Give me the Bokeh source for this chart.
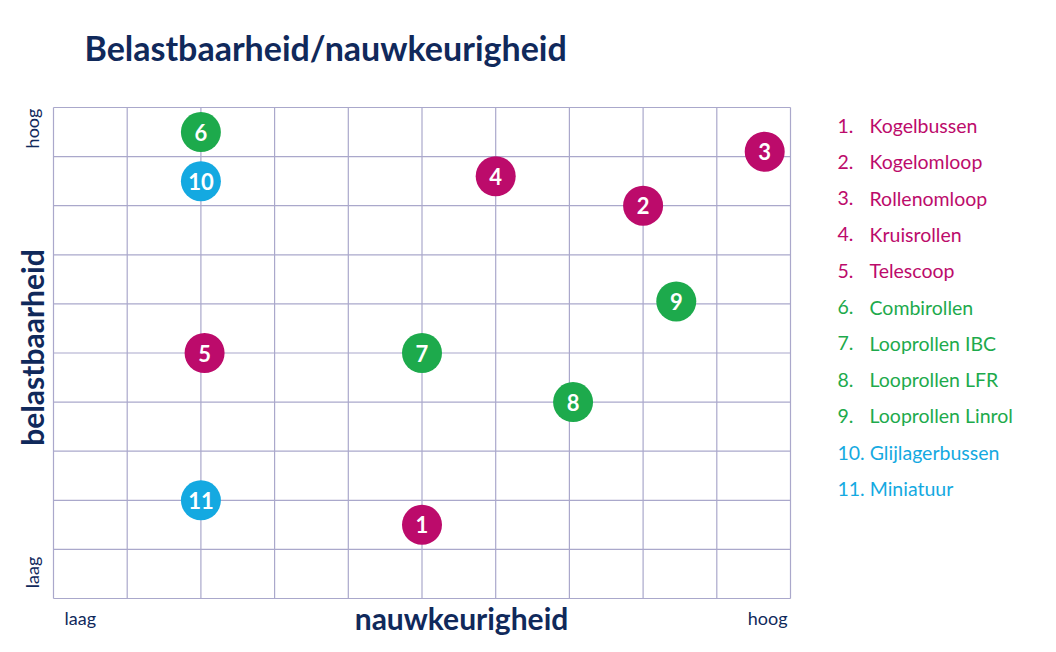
from bokeh.plotting import figure
from bokeh.models import ColumnDataSource, Label, Range1d
from bokeh.embed import file_html
from bokeh.resources import INLINE
from bokeh.core.properties import value
import math

# ---- data ----
numbers = ["1", "2", "3", "4", "5", "6", "7", "8", "9", "10", "11"]
names = ["Kogelbussen", "Kogelomloop", "Rollenomloop", "Kruisrollen", "Telescoop",
         "Combirollen", "Looprollen IBC", "Looprollen LFR", "Looprollen Linrol",
         "Glijlagerbussen", "Miniatuur"]
nauwkeurigheid = [5.0, 8.0, 9.65, 6.0, 2.05, 2.0, 5.0, 7.05, 8.45, 2.0, 2.0]
belastbaarheid = [1.5, 8.0, 9.1, 8.6, 5.0, 9.5, 5.0, 4.0, 6.05, 8.5, 2.0]
groups = ["a", "a", "a", "a", "a", "b", "b", "b", "b", "c", "c"]
grid_ticks = [0, 1, 2, 3, 4, 5, 6, 7, 8, 9, 10]

MAGENTA = "#BC0B6B"
GREEN = "#1DAA4C"
BLUE = "#14A9E1"
NAVY = "#10295B"
GRID = "#AAA8CB"
color_map = {"a": MAGENTA, "b": GREEN, "c": BLUE}
colors = [color_map[g] for g in groups]

FONT = "Lato"

W, H = 1056, 652
FL, FR, FT, FB = 53, 790, 107, 598
sx = (FR - FL) / 10.0
sy = (FB - FT) / 10.0

p = figure(width=W, height=H, output_backend="svg", toolbar_location=None,
           x_range=Range1d(-FL / sx, (W - FL) / sx),
           y_range=Range1d((FB - H) / sy, FB / sy),
           min_border=0)
p.title.visible = False
p.xaxis.visible = False
p.yaxis.visible = False
p.xgrid.visible = False
p.ygrid.visible = False
p.outline_line_color = None
p.background_fill_color = "white"
p.border_fill_color = "white"

lo, hi = grid_ticks[0], grid_ticks[-1]
p.segment(x0=grid_ticks, y0=[lo] * len(grid_ticks), x1=grid_ticks, y1=[hi] * len(grid_ticks),
          line_color=GRID, line_width=1.2)
p.segment(x0=[lo] * len(grid_ticks), y0=grid_ticks, x1=[hi] * len(grid_ticks), y1=grid_ticks,
          line_color=GRID, line_width=1.2)

src = ColumnDataSource(dict(x=nauwkeurigheid, y=belastbaarheid, n=numbers, c=colors))
p.scatter("x", "y", source=src, size=40, fill_color="c", line_color=None)
p.text("x", "y", text="n", source=src, text_color="white", text_font=value(FONT),
       text_font_size="22px", text_align="center", text_baseline="middle",
       text_font_style="bold")


def px(xp):
    return (xp - FL) / sx


def py(yp):
    return (FB - yp) / sy


def lab(text, xp, yp, size, color=NAVY, align="left", angle=0.0, style="normal"):
    p.add_layout(Label(x=px(xp), y=py(yp), text=text, text_font=FONT,
                       text_font_size=size, text_color=color, text_align=align,
                       text_baseline="middle", angle=angle, text_font_style=style))


lab("Belastbaarheid/nauwkeurigheid", 84, 47, "34px", style="bold")
lab("nauwkeurigheid", 461, 617, "30px", align="center", style="bold")
lab("belastbaarheid", 31, 347, "30px", align="center", angle=math.pi / 2, style="bold")
lab("hoog", 31, 128, "18px", align="center", angle=math.pi / 2)
lab("laag", 31, 572, "18px", align="center", angle=math.pi / 2)
lab("laag", 64, 617, "18px")
lab("hoog", 787, 617, "18px", align="right")

y0, dy = 125, 36.3
for i, (num, name, c) in enumerate(zip(numbers, names, colors)):
    yy = y0 + i * dy
    if len(num) == 1:
        lab(num + ".", 837, yy, "19.5px", color=c)
        lab(name, 869, yy, "19.5px", color=c)
    else:
        lab(num + ". " + name, 837, yy, "19.5px", color=c)

open("out.html", "w").write(file_html(p, INLINE))
